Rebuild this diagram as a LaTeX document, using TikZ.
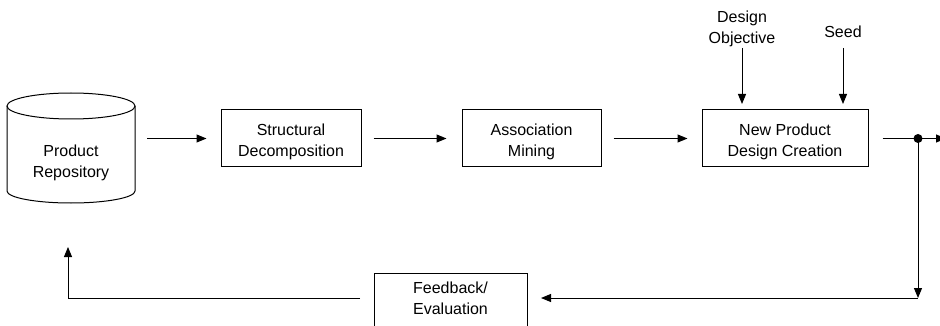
\documentclass[tikz,border=0pt]{standalone}
\usepackage{fontspec}
\setmainfont{Liberation Sans}
\usetikzlibrary{arrows.meta,calc}
\begin{document}
\begin{tikzpicture}[x=1pt,y=-1pt,
  every node/.style={font=\fontsize{16}{21}\selectfont, align=center},
  proc/.style={draw, line width=1pt, minimum width=140pt, minimum height=57pt, inner sep=0pt,
    label={[yshift=-3pt]center:#1}},
  flow/.style={line width=1pt, -{Triangle[length=10pt,width=8pt]}},
  plain/.style={line width=1pt}]
\clip (0,0) rectangle (940,326);
\fill[white] (0,0) rectangle (940,326);

% product repository (cylinder drawn by hand)
\draw[line width=1pt] (71,106) ellipse [x radius=64, y radius=13];
\draw[line width=1pt] (7,106) -- (7,191) arc [start angle=180, end angle=0, x radius=64, y radius=12] -- (135,106);
\node (repo) at (71,163) {Product\\Repository};
\coordinate (repoE) at (135,138.5);

% processing steps
\node[proc={Structural\\Decomposition}] (decomp) at (291,138.5) {};
\node[proc={Association\\Mining}, minimum width=139pt] (mining) at (531.5,138.5) {};
\node[proc={New Product\\Design Creation}, minimum width=166pt] (create) at (785,138.5) {};

% inputs
\node (obj) at (742,28.5) {Design\\Objective};
\node (seed) at (843,32) {Seed};
\coordinate (objT) at (742,48);
\coordinate (objB) at (742,104);
\coordinate (seedT) at (843,48);
\coordinate (seedB) at (843,104);

% feedback box, open at the bottom edge
\node (feed) at (450.5,298.5) {Feedback/\\Evaluation};
\draw[plain] (374,330) -- (374,273) -- (527,273) -- (527,330);
\coordinate (feedR) at (527,298);
\coordinate (feedL) at (374,298);

% main flow
\draw[flow, shorten <=12pt, shorten >=14pt] (repoE) -- (decomp.west);
\draw[flow, shorten <=12pt, shorten >=15pt] (decomp.east) -- (mining.west);
\draw[flow, shorten <=12pt, shorten >=14pt] (mining.east) -- (create.west);
\draw[flow] (objT) -- (objB);
\draw[flow] (seedT) -- (seedB);

% output with branch point
\coordinate (branch) at (918,138.5);
\coordinate (outR) at (946,138.5);
\coordinate (corner) at (918,298);
\coordinate (cornerL) at (68,298);
\coordinate (upEnd) at (68,247);
\draw[plain, shorten <=14pt] (create.east) -- (branch);
\draw[flow] (branch) -- (outR);
\fill (branch) circle (4.5pt);
\draw[flow] (branch) -- (corner);
\draw[flow, shorten >=14pt] (corner) -- (feedR);
\draw[plain, shorten <=14pt] (feedL) -- (cornerL);
\draw[flow] (cornerL) -- (upEnd);
\end{tikzpicture}
\end{document}
